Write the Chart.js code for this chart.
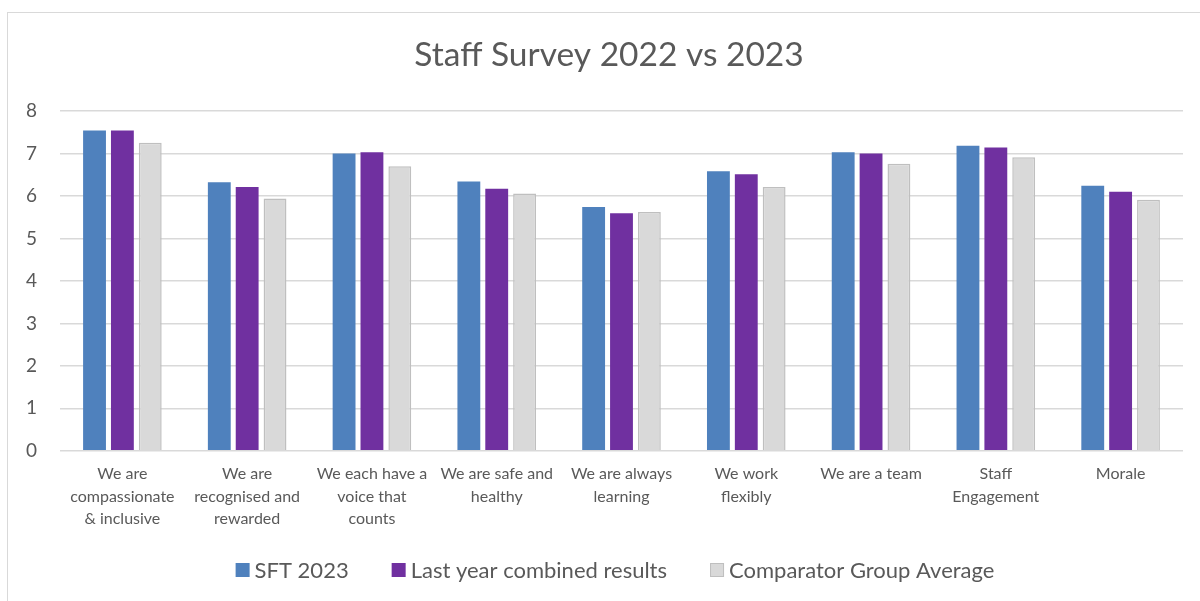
<!DOCTYPE html>
<html lang="en">
<head>
  <meta charset="UTF-8">
  <title>Staff Survey 2022 vs 2023</title>
  <script src="https://cdn.jsdelivr.net/npm/chart.js"></script>
  <style>
      html, body { margin: 0; padding: 0; overflow: hidden; background: #fff; }
      #frame { position: absolute; left: 7px; top: 12px; width: 1400px; height: 800px;
               border-top: 1.5px solid #d9d9d9; border-left: 1.5px solid #d9d9d9; }
      #chart-container { position: absolute; left: 0; top: 0; width: 1200px; height: 601px; }
  </style>
</head>
<body>
  <div id="frame"></div>
  <div id="chart-container">
    <canvas id="myChart" width="1200" height="601"></canvas>
  </div>

  <script>
    // Survey themes (multi-line labels)
    const categories = [
      ["We are", "compassionate", "& inclusive"],
      ["We are", "recognised and", "rewarded"],
      ["We each have a", "voice that", "counts"],
      ["We are safe and", "healthy"],
      ["We are always", "learning"],
      ["We work", "flexibly"],
      ["We are a team"],
      ["Staff", "Engagement"],
      ["Morale"]
    ];

    // Scores per theme
    const sft2023 = [7.54, 6.32, 7.00, 6.34, 5.74, 6.58, 7.03, 7.18, 6.24];
    const lastYear = [7.54, 6.21, 7.03, 6.17, 5.59, 6.51, 7.00, 7.14, 6.10];
    const comparator = [7.25, 5.94, 6.70, 6.06, 5.62, 6.21, 6.76, 6.91, 5.91];

    const yTicks = [0, 1, 2, 3, 4, 5, 6, 7, 8];

    const chartTitle = 'Staff Survey 2022 vs 2023';
    const textColor = '#595959';
    const gridColor = '#d9d9d9';
    const fontFamily = 'Lato, "Open Sans", sans-serif';

    // The chart frame is wider than the visible canvas, so title and legend are
    // centred on the frame rather than on the canvas.
    const frameCenterX = 609;

    // Title and bottom legend drawn by hand: Chart.js ties legend item spacing to
    // vertical padding, here the items need a wide gap and a tight box-to-text gap.
    const furniture = {
      id: 'furniture',
      afterDraw(chart) {
        const c = chart.ctx;
        c.save();
        c.fillStyle = textColor;
        c.textAlign = 'center';
        c.textBaseline = 'middle';
        c.font = '33.5px ' + fontFamily;
        c.fillText(chartTitle, frameCenterX, 55);

        const box = 14, textGap = 5, itemGap = 43, y = 570;
        c.font = '22px ' + fontFamily;
        c.textAlign = 'left';
        const items = chart.data.datasets.map(ds => ({
          ds, w: box + textGap + c.measureText(ds.label).width
        }));
        const total = items.reduce((s, it) => s + it.w, 0) + itemGap * (items.length - 1);
        let x = frameCenterX + 6 - total / 2;
        items.forEach(({ ds, w }) => {
          c.fillStyle = ds.backgroundColor;
          c.fillRect(x, y - box / 2, box, box);
          if (ds.borderWidth) {
            c.strokeStyle = ds.borderColor;
            c.lineWidth = 1;
            c.strokeRect(x + 0.5, y - box / 2 + 0.5, box - 1, box - 1);
          }
          c.fillStyle = textColor;
          c.fillText(ds.label, x + box + textGap, y + 1);
          x += w + itemGap;
        });
        c.restore();
      }
    };

    const ctx = document.getElementById('myChart').getContext('2d');
    const myChart = new Chart(ctx, {
      type: 'bar',
      data: {
        labels: categories,
        datasets: [
          { label: 'SFT 2023', data: sft2023, backgroundColor: '#4f81bd', borderWidth: 0 },
          { label: 'Last year combined results', data: lastYear, backgroundColor: '#7030a0', borderWidth: 0 },
          { label: 'Comparator Group Average', data: comparator, backgroundColor: '#d9d9d9',
            borderColor: '#bfbfbf', borderWidth: 1.5 }
        ]
      },
      options: {
        responsive: false,
        animation: false,
        datasets: {
          bar: { categoryPercentage: 0.67, barPercentage: 0.82 }
        },
        layout: { padding: { left: 10, right: 17, top: 111, bottom: 59 } },
        plugins: {
          title: { display: false },
          legend: { display: false },
          tooltip: { enabled: false }
        },
        scales: {
          x: {
            grid: { display: false, drawTicks: false },
            border: { display: false },
            ticks: {
              color: textColor,
              font: { family: fontFamily, size: 16, lineHeight: 1.4 },
              maxRotation: 0,
              autoSkip: false,
              padding: 12
            }
          },
          y: {
            min: 0,
            max: 8,
            afterBuildTicks: axis => { axis.ticks = yTicks.map(v => ({ value: v })); },
            afterFit: axis => { axis.width = 50; },
            grid: { color: gridColor, lineWidth: 1.5, drawTicks: false },
            border: { display: false },
            ticks: {
              color: textColor,
              font: { family: fontFamily, size: 19 },
              padding: 23
            }
          }
        }
      },
      plugins: [furniture]
    });
  </script>
</body>
</html>
